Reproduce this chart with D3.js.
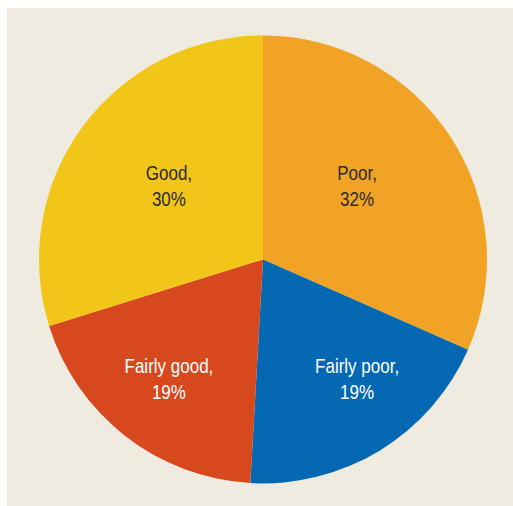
<!DOCTYPE html>
<html>
<head>
<meta charset="utf-8">
<script src="https://cdn.jsdelivr.net/npm/d3@7"></script>
<style>
  html, body { margin: 0; padding: 0; background: #ffffff; }
  svg { display: block; }
</style>
</head>
<body>
<svg id="chart" width="513" height="506"></svg>
<script>
// Data
const categories = ["Poor", "Fairly poor", "Fairly good", "Good"];
const shares = [31.6, 19.3, 19.3, 29.8];          // slice sizes, %
const shareLabels = ["32%", "19%", "19%", "30%"]; // printed labels
const colors = ["#f0a324", "#0568b3", "#d8481f", "#f1c619"];
const textColors = ["#2b2b2b", "#ffffff", "#ffffff", "#2b2b2b"];

const W = 513, H = 506;
const svg = d3.select("#chart");

svg.append("rect")
  .attr("x", 7).attr("y", 8)
  .attr("width", W - 7).attr("height", H - 8)
  .attr("fill", "#efebe1");

const cx = 263, cy = 259.4, R = 224;
const g = svg.append("g").attr("transform", `translate(${cx},${cy})`);

const data = categories.map((c, i) => ({ cat: c, value: shares[i], label: shareLabels[i], color: colors[i], tc: textColors[i] }));

const pie = d3.pie().value(d => d.value).sort(null);
const arc = d3.arc().innerRadius(0).outerRadius(R);
const arcs = pie(data);

g.selectAll("path.slice")
  .data(arcs)
  .join("path")
  .attr("class", "slice")
  .attr("d", arc)
  .attr("fill", d => d.data.color);

// Label placement: left/right by mid-angle side, upper/lower by half
function labelPos(d) {
  const mid = (d.startAngle + d.endAngle) / 2;
  const x = Math.sign(Math.sin(mid)) * 0.42 * R;
  const y = Math.cos(mid) > 0 ? -0.353 * R : 0.505 * R;
  return [x, y];
}

const labels = g.selectAll("text.lbl")
  .data(arcs)
  .join("text")
  .attr("class", "lbl")
  .attr("transform", d => `translate(${labelPos(d)}) scale(0.81,1)`)
  .attr("text-anchor", "middle")
  .attr("fill", d => d.data.tc)
  .style("font-family", "'Liberation Sans', Arial, sans-serif")
  .style("font-size", "21px");

labels.append("tspan").attr("x", 0).attr("y", 0).text(d => d.data.cat + ",");
labels.append("tspan").attr("x", 0).attr("y", 26).text(d => d.data.label);
</script>
</body>
</html>
